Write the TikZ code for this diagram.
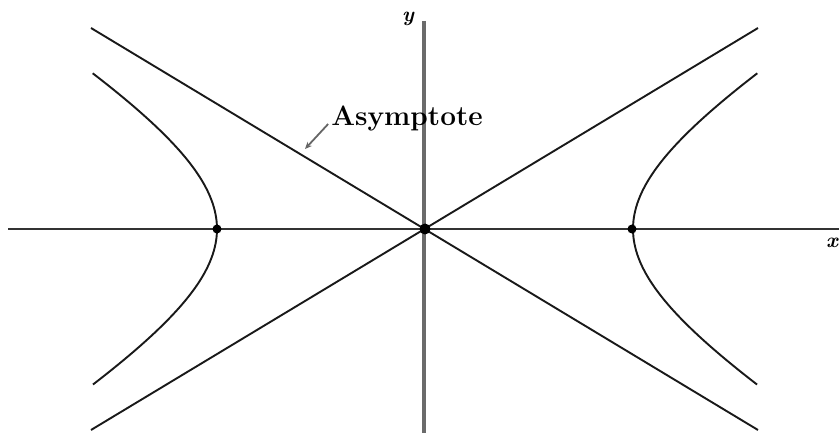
\documentclass[tikz,border=0pt]{standalone}
\usetikzlibrary{arrows.meta}
\begin{document}
\begin{tikzpicture}[x=1pt,y=-1pt,
  curve/.style={line width=1.9pt,black!90},
  xaxisline/.style={line width=2.4pt,black!80},
  yaxisline/.style={line width=4.5pt,black!58},
  dotnode/.style={circle,fill=black,inner sep=0pt,minimum size=9pt},
  pointer/.style={line width=1.8pt,black!60,-{Stealth[length=7pt,width=6pt]}},
  axlabel/.style={font=\fontsize{21}{23}\selectfont\itshape\bfseries,inner sep=0pt}]
\useasboundingbox (0,0) rectangle (839,433);
% axes
\coordinate (xl) at (8,229);
\coordinate (xr) at (845,229);
\coordinate (yt) at (424,21);
\coordinate (yb) at (424,440);
\draw[xaxisline] (xl) -- (xr);
\draw[yaxisline] (yt) -- (yb);
% asymptotes
\coordinate (a1) at (91,28);
\coordinate (a2) at (758,430);
\coordinate (a3) at (758,28);
\coordinate (a4) at (91,430);
\draw[curve] (a1) -- (a2);
\draw[curve] (a3) -- (a4);
% hyperbola branches
\draw[curve,domain=-1.045:1.045,samples=80,variable=\t]
  plot ({425+208*cosh(\t)},{229+125*sinh(\t)});
\draw[curve,domain=-1.045:1.045,samples=80,variable=\t]
  plot ({425-208*cosh(\t)},{229+125*sinh(\t)});
% points
\node[dotnode] (v1) at (217,229) {};
\node[dotnode] (v2) at (632,229) {};
\node[dotnode,minimum size=11pt] (o) at (425,229) {};
% labels
\node[axlabel] (ylab) at (408,19) {y};
\node[axlabel] (xlab) at (832,243) {x};
\node[font=\fontsize{28}{30}\selectfont\bfseries,inner sep=0pt] (lab) at (407,119) {Asymptote};
\coordinate (tip) at (305,149);
\draw[pointer] ([xshift=-3pt,yshift=-5pt]lab.west) -- (tip);
\end{tikzpicture}
\end{document}
